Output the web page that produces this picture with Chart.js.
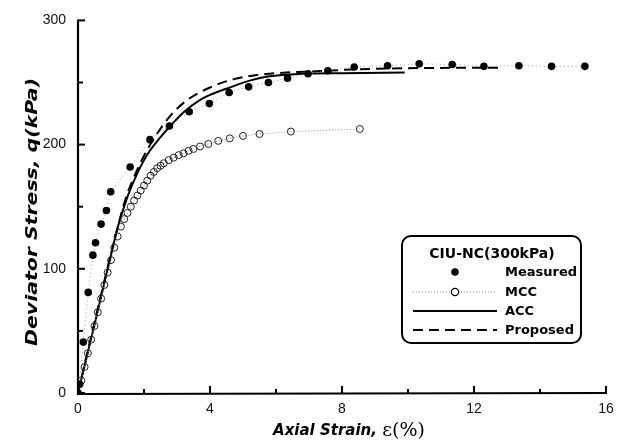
<!DOCTYPE html>
<html>
<head>
<meta charset="utf-8">
<script src="https://cdn.jsdelivr.net/npm/chart.js@4.4.1/dist/chart.umd.min.js"></script>
<style>
  html, body { margin: 0; padding: 0; background: #fff; }
  #wrap { position: relative; width: 624px; height: 441px; }
</style>
</head>
<body>
<div id="wrap"><canvas id="c" width="624" height="441"></canvas></div>
<script>
// ---- data ----
const measuredStrain = [0, 0.05, 0.16, 0.31, 0.45, 0.53, 0.70, 0.86, 0.99, 1.58, 2.18, 2.77, 3.37, 3.98, 4.58, 5.17, 5.77, 6.35, 6.97, 7.57, 8.37, 9.38, 10.34, 11.34, 12.30, 13.36, 14.35, 15.36];
const measuredStress = [0, 7, 41, 81, 111, 121, 136, 147, 162, 182, 204, 215, 226.5, 233, 242, 246.5, 250, 253.5, 257, 259.5, 262.5, 263.5, 265, 264.5, 263, 263.5, 263, 263];

const mccStrain = [0, 0.1, 0.2, 0.3, 0.4, 0.5, 0.6, 0.7, 0.8, 0.9, 1.0, 1.1, 1.2, 1.3, 1.4, 1.5, 1.6, 1.7, 1.8, 1.9, 2.0, 2.1, 2.2, 2.3, 2.4, 2.5, 2.6, 2.75, 2.9, 3.05, 3.2, 3.35, 3.5, 3.7, 3.95, 4.25, 4.6, 5.0, 5.5, 6.45, 8.54];
const mccStress = [0, 10, 21, 32, 43, 54, 65, 76, 87, 97, 107, 117, 126, 134, 140, 145, 150, 155, 159, 163, 167, 171, 175, 178, 181, 183, 185, 187.5, 189.5, 191.5, 193, 195, 196.5, 198.5, 200.5, 203, 205, 207, 208.5, 210.5, 212.6];

const accStrain = [0, 0.5, 0.9, 1.2, 1.5, 1.8, 2.1, 2.5, 2.8, 3.2, 3.7, 4.0, 4.6, 5.2, 5.8, 6.8, 8.0, 9.9];
const accStress = [0, 55, 100, 133, 158, 177, 192, 206, 215, 226, 236, 240, 246, 251.5, 255, 257, 257.5, 258];

const propStrain = [0, 0.5, 1.0, 1.45, 1.7, 2.0, 2.33, 2.79, 3.29, 4.0, 4.7, 5.42, 6.32, 7.33, 8.33, 10.0, 12.9];
const propStress = [0, 57, 112, 157, 174, 191, 206, 223, 235.5, 246, 252.5, 256, 258, 259.2, 260.5, 261.5, 262];

const xTicks = [0, 4, 8, 12, 16];
const xMinorTicks = [2, 6, 10, 14];
const yTicks = [0, 100, 200, 300];
const yMinorTicks = [50, 150, 250];

const legendTitle = 'CIU-NC(300kPa)';
const seriesNames = ['Measured', 'MCC', 'ACC', 'Proposed'];
const xTitleMain = 'Axial Strain, ';
const xTitleSym = 'ε(%)';
const yTitle = 'Deviator Stress, q(kPa)';

function pts(xs, ys) { return xs.map((x, i) => ({ x: x, y: ys[i] })); }

const decor = {
  id: 'decor',
  afterDraw(chart) {
    const ctx = chart.ctx;
    const xs = chart.scales.x, ys = chart.scales.y;
    const L = chart.chartArea.left, B = chart.chartArea.bottom, R = chart.chartArea.right, T = chart.chartArea.top;
    ctx.save();
    ctx.strokeStyle = '#000';
    ctx.lineCap = 'butt';
    // axis lines
    ctx.lineWidth = 2.2;
    ctx.beginPath();
    ctx.moveTo(L, T - 1); ctx.lineTo(L, B + 1); ctx.lineTo(R + 1, B);
    ctx.stroke();
    ctx.lineWidth = 2;
    // y ticks (inward)
    yTicks.forEach(v => { const p = ys.getPixelForValue(v); ctx.beginPath(); ctx.moveTo(L, p); ctx.lineTo(L + 7, p); ctx.stroke(); });
    yMinorTicks.forEach(v => { const p = ys.getPixelForValue(v); ctx.beginPath(); ctx.moveTo(L, p); ctx.lineTo(L + 5, p); ctx.stroke(); });
    // x ticks (inward)
    xTicks.forEach(v => { if (v === 0) return; const p = xs.getPixelForValue(v); ctx.beginPath(); ctx.moveTo(p, B); ctx.lineTo(p, B - 7); ctx.stroke(); });
    xMinorTicks.forEach(v => { const p = xs.getPixelForValue(v); ctx.beginPath(); ctx.moveTo(p, B); ctx.lineTo(p, B - 4); ctx.stroke(); });

    // axis titles
    ctx.fillStyle = '#000';
    ctx.textBaseline = 'alphabetic';
    ctx.textAlign = 'left';
    ctx.font = 'italic bold 15px "DejaVu Sans"';
    const w1 = ctx.measureText(xTitleMain).width;
    ctx.font = '19px "DejaVu Serif"';
    const w2 = ctx.measureText(xTitleSym).width;
    const xStart = 349 - (w1 + w2) / 2;
    ctx.font = 'italic bold 15px "DejaVu Sans"';
    ctx.fillText(xTitleMain, xStart, 435);
    ctx.font = '19px "DejaVu Serif"';
    ctx.fillText(xTitleSym, xStart + w1, 436);

    ctx.save();
    ctx.translate(33, 212);
    ctx.rotate(-Math.PI / 2);
    ctx.font = 'italic bold 15px "DejaVu Sans"';
    const wy = ctx.measureText(yTitle).width;
    ctx.scale(268 / wy, 1);
    ctx.textAlign = 'center';
    ctx.textBaseline = 'middle';
    ctx.fillText(yTitle, 0, 0);
    ctx.restore();

    // legend box
    const bx = 402, by = 236, bw = 179, bh = 107, r = 9;
    ctx.lineWidth = 2;
    ctx.strokeStyle = '#000';
    ctx.beginPath();
    ctx.moveTo(bx + r, by);
    ctx.arcTo(bx + bw, by, bx + bw, by + bh, r);
    ctx.arcTo(bx + bw, by + bh, bx, by + bh, r);
    ctx.arcTo(bx, by + bh, bx, by, r);
    ctx.arcTo(bx, by, bx + bw, by, r);
    ctx.closePath();
    ctx.stroke();

    ctx.textAlign = 'center';
    ctx.textBaseline = 'middle';
    ctx.font = 'bold 14px "DejaVu Sans"';
    ctx.fillText(legendTitle, 492, 254);

    const rows = [272, 292, 311, 330];
    const sx0 = 413, sx1 = 497, mx = 455;
    // Measured
    ctx.beginPath(); ctx.arc(mx, rows[0], 3.8, 0, Math.PI * 2); ctx.fill();
    // MCC
    ctx.save();
    ctx.strokeStyle = '#888'; ctx.lineWidth = 1; ctx.setLineDash([1, 2]);
    ctx.beginPath(); ctx.moveTo(sx0, rows[1]); ctx.lineTo(sx1, rows[1]); ctx.stroke();
    ctx.restore();
    ctx.save();
    ctx.lineWidth = 1.2; ctx.fillStyle = '#fff';
    ctx.beginPath(); ctx.arc(mx, rows[1], 3.6, 0, Math.PI * 2); ctx.fill(); ctx.stroke();
    ctx.restore();
    // ACC
    ctx.lineWidth = 2;
    ctx.beginPath(); ctx.moveTo(sx0, rows[2]); ctx.lineTo(sx1, rows[2]); ctx.stroke();
    // Proposed
    ctx.save(); ctx.setLineDash([10, 6]);
    ctx.beginPath(); ctx.moveTo(sx0, rows[3]); ctx.lineTo(sx1, rows[3]); ctx.stroke();
    ctx.restore();

    ctx.textAlign = 'left';
    ctx.font = 'bold 13px "DejaVu Sans"';
    seriesNames.forEach((n, i) => ctx.fillText(n, 505, rows[i] + 0.5));
    ctx.restore();
  }
};

new Chart(document.getElementById('c'), {
  type: 'scatter',
  data: {
    datasets: [
      {
        label: seriesNames[0],
        data: pts(measuredStrain, measuredStress),
        showLine: true,
        borderColor: '#9a9a9a',
        borderWidth: 1,
        borderDash: [1, 3],
        pointRadius: 3.8,
        pointBackgroundColor: '#000',
        pointBorderColor: '#000',
        pointBorderWidth: 0,
        tension: 0
      },
      {
        label: seriesNames[1],
        data: pts(mccStrain, mccStress),
        showLine: true,
        borderColor: '#8a8a8a',
        borderWidth: 1,
        borderDash: [1, 2],
        pointRadius: 3.5,
        pointBackgroundColor: 'rgba(255,255,255,0)',
        pointBorderColor: '#222',
        pointBorderWidth: 1,
        tension: 0
      },
      {
        label: seriesNames[2],
        data: pts(accStrain, accStress),
        showLine: true,
        borderColor: '#000',
        borderWidth: 2,
        pointRadius: 0,
        cubicInterpolationMode: 'monotone'
      },
      {
        label: seriesNames[3],
        data: pts(propStrain, propStress),
        showLine: true,
        borderColor: '#000',
        borderWidth: 2,
        borderDash: [10, 6],
        pointRadius: 0,
        cubicInterpolationMode: 'monotone'
      }
    ]
  },
  options: {
    responsive: false,
    animation: false,
    layout: { padding: { left: 0, right: 18, top: 15, bottom: 0 } },
    plugins: { legend: { display: false }, tooltip: { enabled: false } },
    scales: {
      x: {
        type: 'linear', min: 0, max: 16,
        afterFit(s) { s.height = 48; },
        afterBuildTicks(s) { s.ticks = xTicks.map(v => ({ value: v })); },
        grid: { display: false, drawTicks: false },
        border: { display: false },
        ticks: { padding: 8, color: '#111', font: { family: '"Liberation Sans", Arial', size: 14 }, maxRotation: 0 }
      },
      y: {
        type: 'linear', min: 0, max: 300,
        afterFit(s) { s.width = 78; },
        afterBuildTicks(s) { s.ticks = yTicks.map(v => ({ value: v })); },
        grid: { display: false, drawTicks: false },
        border: { display: false },
        ticks: { padding: 12, color: '#111', font: { family: '"Liberation Sans", Arial', size: 14 } }
      }
    }
  },
  plugins: [decor]
});
</script>
</body>
</html>
